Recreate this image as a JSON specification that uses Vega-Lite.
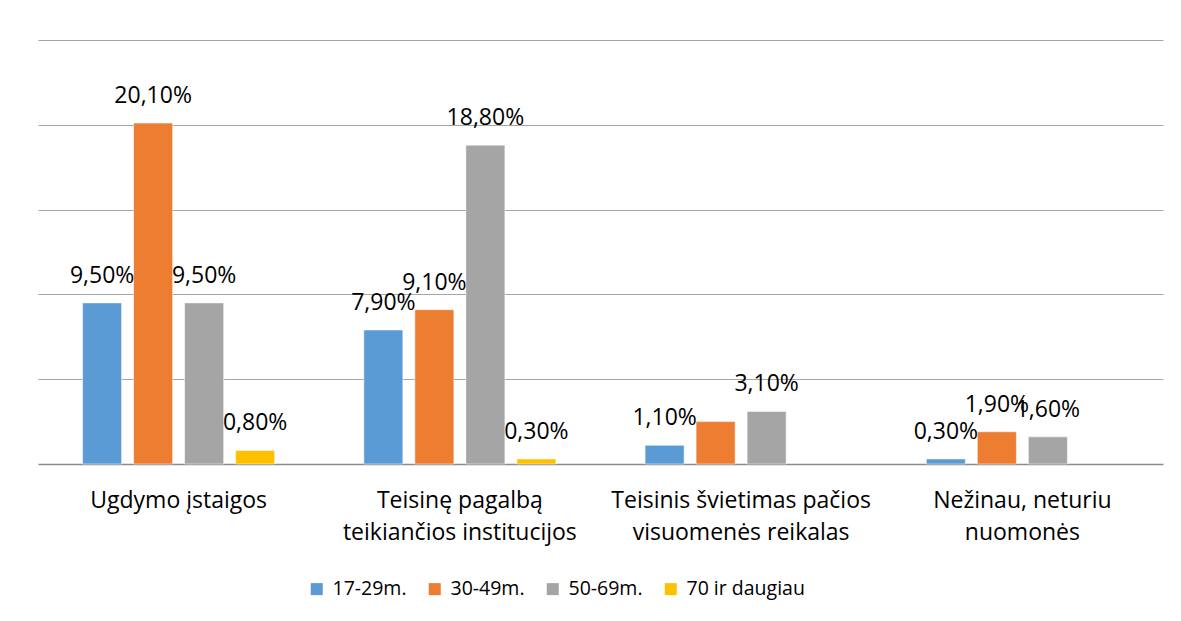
{
  "$schema": "https://vega.github.io/schema/vega-lite/v6.json",
  "autosize": "none",
  "width": 1125,
  "height": 424,
  "padding": {"left": 38, "top": 40, "right": 18, "bottom": 157},
  "background": "white",
  "config": {"view": {"stroke": null}, "font": "Open Sans"},
  "data": {
    "values": [
      {"cat": "Ugdymo įstaigos", "grp": "17-29m.", "v": 9.5},
      {"cat": "Ugdymo įstaigos", "grp": "30-49m.", "v": 20.1},
      {"cat": "Ugdymo įstaigos", "grp": "50-69m.", "v": 9.5},
      {"cat": "Ugdymo įstaigos", "grp": "70 ir daugiau", "v": 0.8},
      {"cat": "Teisinę pagalbą teikiančios institucijos", "grp": "17-29m.", "v": 7.9},
      {"cat": "Teisinę pagalbą teikiančios institucijos", "grp": "30-49m.", "v": 9.1},
      {"cat": "Teisinę pagalbą teikiančios institucijos", "grp": "50-69m.", "v": 18.8},
      {"cat": "Teisinę pagalbą teikiančios institucijos", "grp": "70 ir daugiau", "v": 0.3},
      {"cat": "Teisinis švietimas pačios visuomenės reikalas", "grp": "17-29m.", "v": 1.1},
      {"cat": "Teisinis švietimas pačios visuomenės reikalas", "grp": "30-49m.", "v": 2.5},
      {"cat": "Teisinis švietimas pačios visuomenės reikalas", "grp": "50-69m.", "v": 3.1},
      {"cat": "Nežinau, neturiu nuomonės", "grp": "17-29m.", "v": 0.3},
      {"cat": "Nežinau, neturiu nuomonės", "grp": "30-49m.", "v": 1.9},
      {"cat": "Nežinau, neturiu nuomonės", "grp": "50-69m.", "v": 1.6}
    ]
  },
  "transform": [
    {"calculate": "replace(format(datum.v, '.2f'), '.', ',') + '%'", "as": "lab"}
  ],
  "encoding": {
    "x": {
      "field": "cat",
      "type": "nominal",
      "sort": ["Ugdymo įstaigos", "Teisinę pagalbą teikiančios institucijos", "Teisinis švietimas pačios visuomenės reikalas", "Nežinau, neturiu nuomonės"],
      "scale": {"paddingInner": 0.317, "paddingOuter": 0.1585},
      "axis": {
        "title": null,
        "labelAngle": 0,
        "ticks": false,
        "domainColor": "#8c8c8c",
        "domainWidth": 1.5,
        "labelFontSize": 23,
        "labelColor": "#000000",
        "labelPadding": 25,
        "labelLineHeight": 32,
        "labelLimit": 400,
        "labelBaseline": "top",
        "labelExpr": "datum.value == 'Teisinę pagalbą teikiančios institucijos' ? ['Teisinę pagalbą', 'teikiančios institucijos'] : datum.value == 'Teisinis švietimas pačios visuomenės reikalas' ? ['Teisinis švietimas pačios', 'visuomenės reikalas'] : datum.value == 'Nežinau, neturiu nuomonės' ? ['Nežinau, neturiu', 'nuomonės'] : datum.value"
      }
    },
    "xOffset": {
      "field": "grp",
      "type": "nominal",
      "sort": ["17-29m.", "30-49m.", "50-69m.", "70 ir daugiau"],
      "scale": {"paddingInner": 0.235, "paddingOuter": 0}
    },
    "y": {
      "field": "v",
      "type": "quantitative",
      "scale": {"domain": [0, 25], "nice": false},
      "axis": {
        "title": null,
        "labels": false,
        "ticks": false,
        "domain": false,
        "values": [5, 10, 15, 20, 25],
        "gridColor": "#a6a6a6",
        "gridWidth": 1.2
      }
    }
  },
  "layer": [
    {
      "mark": {"type": "bar", "stroke": "white", "strokeWidth": 1, "strokeOpacity": 0.5},
      "encoding": {
        "color": {
          "field": "grp",
          "type": "nominal",
          "sort": ["17-29m.", "30-49m.", "50-69m.", "70 ir daugiau"],
          "scale": {"range": ["#5B9BD5", "#ED7D31", "#A5A5A5", "#FFC000"]},
          "legend": {
            "title": null,
            "orient": "none",
            "legendX": 269,
            "legendY": 539,
            "direction": "horizontal",
            "symbolType": "square",
            "symbolSize": 144,
            "symbolStrokeWidth": 0,
            "labelFontSize": 19.5,
            "labelColor": "#000000",
            "labelOffset": 6,
            "columnPadding": 18,
            "padding": 0,
            "labelLimit": 300
          }
        }
      }
    },
    {
      "transform": [
        {"filter": "!(datum.cat == 'Teisinis švietimas pačios visuomenės reikalas' && datum.grp == '30-49m.')"}
      ],
      "mark": {"type": "text", "baseline": "alphabetic", "dy": -20, "fontSize": 23, "color": "#000000"},
      "encoding": {"text": {"field": "lab"}}
    }
  ]
}
